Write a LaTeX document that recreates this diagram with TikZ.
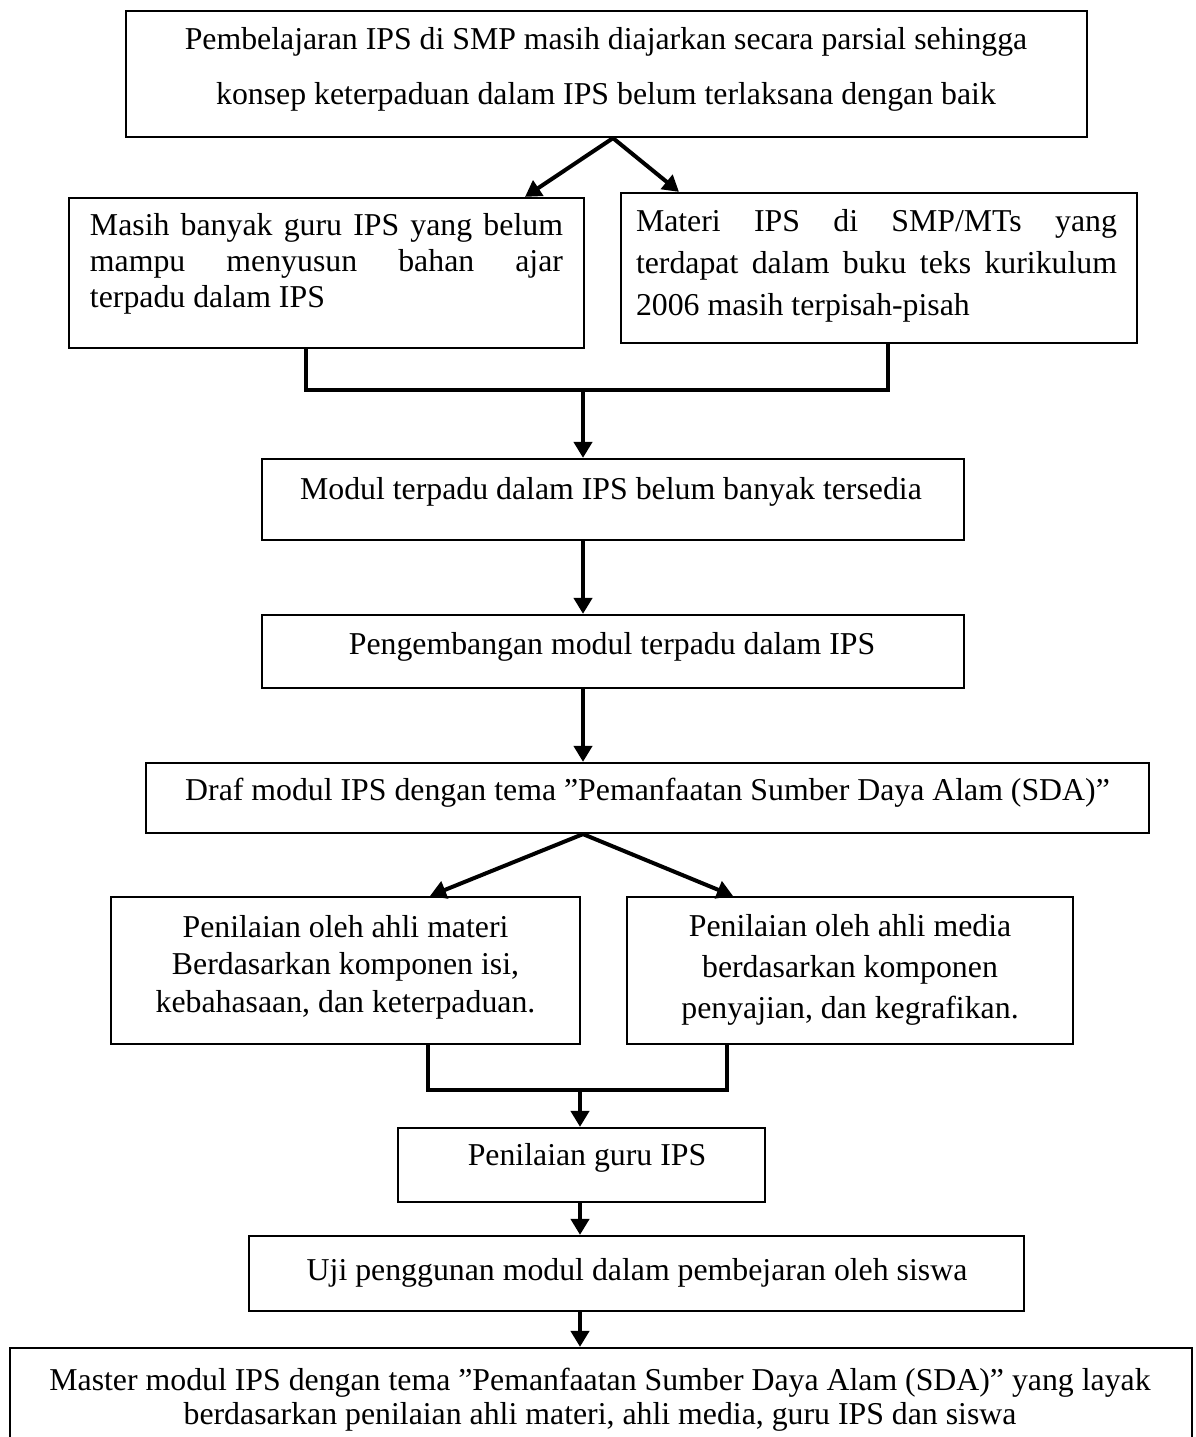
\documentclass[tikz,border=0pt]{standalone}
\usepackage{fontspec}
\setmainfont{Liberation Serif}
\usetikzlibrary{arrows.meta}
\begin{document}
\begin{tikzpicture}[x=1bp,y=-1bp,
  box/.style={draw, line width=2.2bp, inner sep=0pt},
  arr/.style={line width=4bp, -{Triangle[length=16bp,width=18bp]}},
  conn/.style={line width=3.6bp, line join=miter},
  txt/.style={inner sep=0pt, font=\fontsize{31.8bp}{36bp}\selectfont}]
\useasboundingbox (0,0) rectangle (1195,1437);
\clip (0,0) rectangle (1195,1437);
% boxes
\node[box, minimum width=961bp, minimum height=126bp] (top) at (606.5,74) {};
\node[box, minimum width=515bp, minimum height=150bp] (lb) at (326.5,273) {};
\node[box, minimum width=516bp, minimum height=150bp] (rb) at (879,268) {};
\node[box, minimum width=702bp, minimum height=81bp] (mb) at (613,499.5) {};
\node[box, minimum width=702bp, minimum height=73bp] (pb) at (613,651.5) {};
\node[box, minimum width=1003bp, minimum height=70bp] (db) at (647.5,798) {};
\node[box, minimum width=469bp, minimum height=147bp] (la) at (345.5,970.5) {};
\node[box, minimum width=446bp, minimum height=147bp] (ra) at (850,970.5) {};
\node[box, minimum width=367bp, minimum height=74bp] (gb) at (581.5,1165) {};
\node[box, minimum width=775bp, minimum height=75bp] (ub) at (636.5,1273.5) {};
\node[box, minimum width=1182bp, minimum height=120bp] (mst) at (601,1408) {};
% texts
\node[txt, align=center, font=\fontsize{31.8bp}{55bp}\selectfont] (toptext) at (606,69.5)
  {Pembelajaran IPS di SMP masih diajarkan secara parsial sehingga\\konsep keterpaduan dalam IPS belum terlaksana dengan baik};
\node[txt, align=left] (lbtext) at (326.5,264)
  {\makebox[473bp][s]{Masih banyak guru IPS yang belum}\\
   \makebox[473bp][s]{mampu menyusun bahan ajar}\\
   \makebox[473bp][l]{terpadu dalam IPS}};
\node[txt, align=left, font=\fontsize{31.8bp}{42bp}\selectfont] (rbtext) at (876.5,266)
  {\makebox[481bp][s]{Materi IPS di SMP/MTs yang}\\
   \makebox[481bp][s]{terdapat dalam buku teks kurikulum}\\
   \makebox[481bp][l]{2006 masih terpisah-pisah}};
\node[txt] (mbtext) at (611,492) {Modul terpadu dalam IPS belum banyak tersedia};
\node[txt] (pbtext) at (612,647) {Pengembangan modul terpadu dalam IPS};
\node[txt] (dbtext) at (647.5,793) {Draf modul IPS dengan tema ”Pemanfaatan Sumber Daya Alam (SDA)”};
\node[txt, align=center, font=\fontsize{31.8bp}{37.5bp}\selectfont] (latext) at (345.5,967)
  {Penilaian oleh ahli materi\\Berdasarkan komponen isi,\\kebahasaan, dan keterpaduan.};
\node[txt, align=center, font=\fontsize{31.8bp}{41bp}\selectfont] (ratext) at (850,970)
  {Penilaian oleh ahli media\\berdasarkan komponen\\penyajian, dan kegrafikan.};
\node[txt] (gbtext) at (587,1158) {Penilaian guru IPS};
\node[txt] (ubtext) at (637,1273) {Uji penggunan modul dalam pembejaran oleh siswa};
\node[txt, align=center, font=\fontsize{31.8bp}{34bp}\selectfont] (msttext) at (600,1400)
  {Master modul IPS dengan tema ”Pemanfaatan Sumber Daya Alam (SDA)” yang layak\\berdasarkan penilaian ahli materi, ahli media, guru IPS dan siswa};
% connectors
\coordinate (ap1) at ([xshift=6.5bp]top.south);
\draw[arr] (ap1) -- ([xshift=198.5bp]lb.north);
\draw[arr] (ap1) -- ([xshift=-200bp]rb.north);
\coordinate (m1) at (583,390);
\draw[conn] ([xshift=-20.5bp]lb.south) |- (m1) -| ([xshift=9bp]rb.south);
\draw[arr] (m1) -- (mb.north -| m1);
\draw[arr] (mb.south -| m1) -- (pb.north -| m1);
\draw[arr] (pb.south -| m1) -- (db.north -| m1);
\coordinate (ap2) at (db.south -| m1);
\draw[arr] (ap2) -- ([xshift=84.5bp]la.north);
\draw[arr] (ap2) -- ([xshift=-117bp]ra.north);
\coordinate (m2) at (580,1090);
\draw[conn] ([xshift=82.5bp]la.south) |- (m2) -| ([xshift=-123bp]ra.south);
\draw[arr] (m2) -- (gb.north -| m2);
\draw[arr] (gb.south -| m2) -- (ub.north -| m2);
\draw[arr] (ub.south -| m2) -- (mst.north -| m2);
\end{tikzpicture}
\end{document}
